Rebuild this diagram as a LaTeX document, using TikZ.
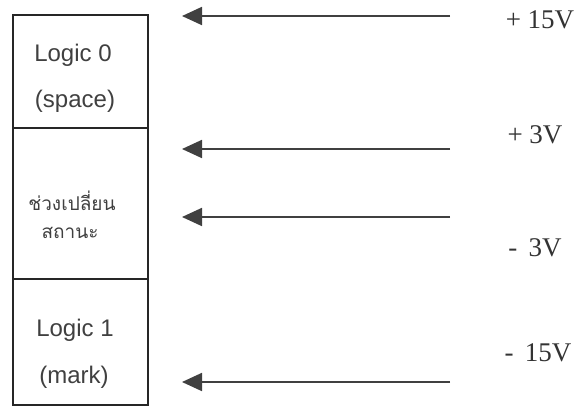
\documentclass[tikz,border=0pt]{standalone}
\usepackage{fontspec}
\setmainfont{Liberation Serif}
\newfontfamily\boxfont{Liberation Sans}
\newfontfamily\thaifont[Script=Thai]{Loma}
\usetikzlibrary{arrows.meta}
\begin{document}
\begin{tikzpicture}[x=1pt,y=-1pt,
  zone/.style={draw=black!85,line width=1.6pt,minimum width=135pt,inner sep=0pt,anchor=north west},
  boxtext/.style={font=\boxfont\fontsize{24}{28}\selectfont,text=black!75},
  thaitext/.style={font=\thaifont\fontsize{19}{22}\selectfont,text=black!75},
  lvl/.style={font=\fontsize{27}{31}\selectfont,text=black!80,anchor=center},
  feed/.style={draw=black!75,line width=1.8pt,-{Triangle[length=20pt,width=18pt]}}]
\useasboundingbox (0,0) rectangle (579,410);
\node[zone,minimum height=113pt] (z0) at (12,14) {};
\node[zone,minimum height=151pt] (zt) at (12,127) {};
\node[zone,minimum height=126pt] (z1) at (12,278) {};
\node[boxtext] (l0a) at (73,55) {Logic 0};
\node[boxtext] (l0b) at (75,101) {(space)};
\node[thaitext] (ta) at (72,201) {ช่วงเปลี่ยน};
\node[thaitext] (tb) at (70,233) {สถานะ};
\node[boxtext] (l1a) at (75,330) {Logic 1};
\node[boxtext] (l1b) at (74,377) {(mark)};
\coordinate (s1) at (450,16); \coordinate (e1) at (182,16);
\coordinate (s2) at (450,149); \coordinate (e2) at (182,149);
\coordinate (s3) at (450,217); \coordinate (e3) at (182,217);
\coordinate (s4) at (450,382); \coordinate (e4) at (182,382);
\draw[feed] (s1) -- (e1);
\draw[feed] (s2) -- (e2);
\draw[feed] (s3) -- (e3);
\draw[feed] (s4) -- (e4);
\node[lvl] (v1) at (540,20) {+ 15V};
\node[lvl] (v2) at (535,135) {+ 3V};
\node[lvl] (v3) at (535,248) {-\, 3V};
\node[lvl] (v4) at (538,353) {-\, 15V};
\end{tikzpicture}
\end{document}
